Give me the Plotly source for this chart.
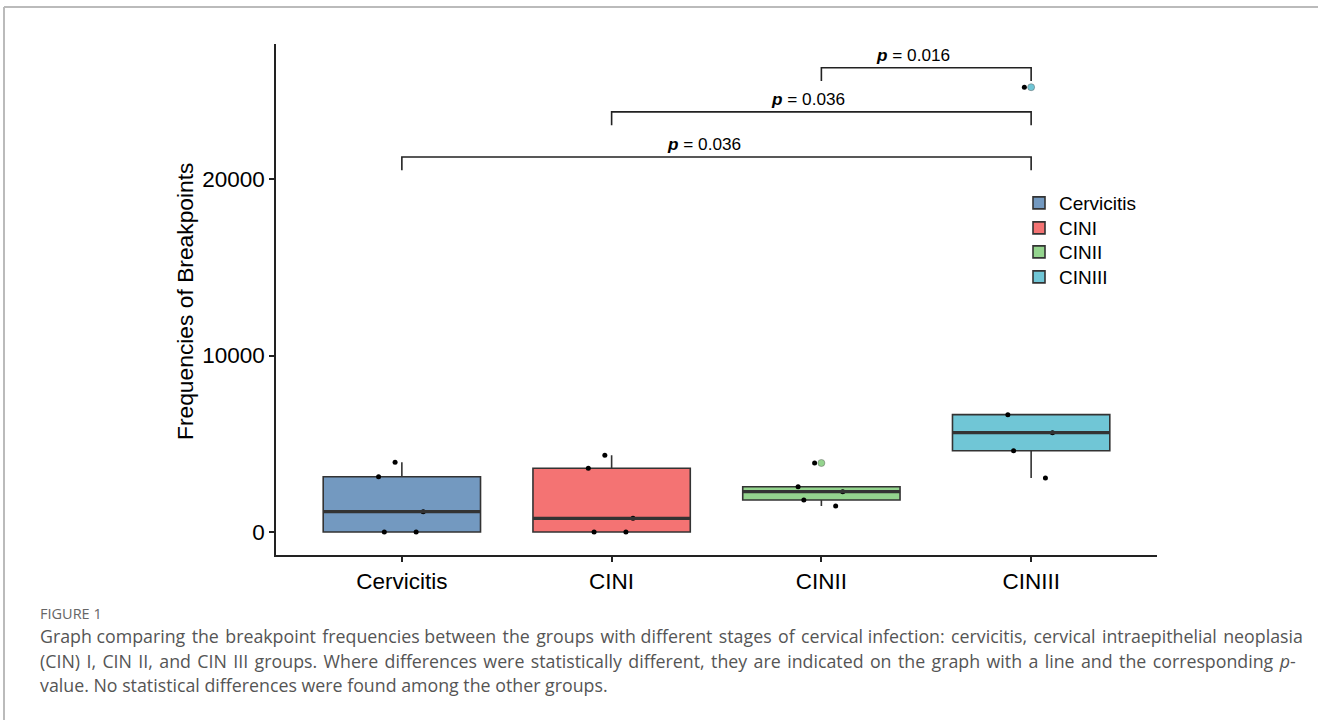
import numpy as np
import plotly.graph_objects as go

# ---- data -------------------------------------------------------------
groups = ["Cervicitis", "CINI", "CINII", "CINIII"]

cervicitis = [0, 0, 1150, 3130, 3950]
cin_1 = [0, 0, 775, 3610, 4345]
cin_2 = [1475, 1815, 2285, 2565, 3910]
cin_3 = [3060, 4605, 5625, 6650, 25200]

y_ticks = [0, 10000, 20000]

# pairwise comparisons (left group, right group, p-value, bracket height)
comp_left = ["Cervicitis", "CINI", "CINII"]
comp_right = ["CINIII", "CINIII", "CINIII"]
p_values = ["0.036", "0.036", "0.016"]
bracket_y = [21250, 23800, 26300]

# ---- styling ----------------------------------------------------------
fills = ["#7399C0", "#F47373", "#94D48E", "#70C6D6"]
edge = "#333333"
axis_font = "Liberation Sans, Arial, sans-serif"
caption_font = "Open Sans, sans-serif"
W, H = 1318, 720
box_w = 0.75
tip = 750

samples = [cervicitis, cin_1, cin_2, cin_3]
pos = {g: i for i, g in enumerate(groups)}
legend_ids = ["legend", "legend2", "legend3", "legend4"]

fig = go.Figure()

for i, (g, vals, col) in enumerate(zip(groups, samples, fills)):
    # box with whiskers and coloured outliers
    fig.add_trace(go.Box(
        x=[i] * len(vals), y=vals, name=g, width=box_w,
        quartilemethod="inclusive", whiskerwidth=0,
        fillcolor=col, line=dict(color=edge, width=1.6),
        boxpoints="outliers", jitter=0, pointpos=0,
        marker=dict(color=col, size=7, line=dict(color="#666666", width=0.5)),
        hoverinfo="skip", legend=legend_ids[i],
    ))

for i, (g, vals) in enumerate(zip(groups, samples)):
    # jittered raw observations
    fig.add_trace(go.Box(
        x=[i] * len(vals), y=vals, width=box_w,
        boxpoints="all", jitter=0.35, pointpos=0,
        fillcolor="rgba(0,0,0,0)", line=dict(color="rgba(0,0,0,0)", width=0),
        marker=dict(color="black", size=5),
        showlegend=False, hoverinfo="skip",
    ))

# thicker median bars
for i, vals in enumerate(samples):
    m = float(np.median(vals))
    fig.add_trace(go.Scatter(
        x=[i - box_w / 2, i + box_w / 2], y=[m, m], mode="lines",
        line=dict(color=edge, width=3.2), showlegend=False, hoverinfo="skip",
    ))

# significance brackets
annotations = []
for a, b, p, h in zip(comp_left, comp_right, p_values, bracket_y):
    x1, x2 = pos[a], pos[b]
    fig.add_trace(go.Scatter(
        x=[x1, x1, x2, x2], y=[h - tip, h, h, h - tip], mode="lines",
        line=dict(color="#222222", width=1.6), showlegend=False, hoverinfo="skip",
    ))
    annotations.append(dict(
        x=(x1 + x2) / 2, y=h, xref="x", yref="y", xshift=-13, yshift=1,
        text=f"<b><i>p</i></b> = {p}", showarrow=False, yanchor="bottom",
        font=dict(family=axis_font, size=17.2, color="black"),
    ))

# y-axis title
annotations.append(dict(
    x=185 / W, y=1 - 301 / H, xref="paper", yref="paper",
    text="Frequencies of Breakpoints", textangle=-90, showarrow=False,
    xanchor="center", yanchor="middle",
    font=dict(family=axis_font, size=22.8, color="black"),
))

# caption
cap_x = 38
annotations.append(dict(
    x=cap_x / W, y=1 - 613 / H, xref="paper", yref="paper", text="FIGURE 1",
    showarrow=False, xanchor="left", yanchor="middle",
    font=dict(family=caption_font, size=14.5, color="#666666"),
))
caption_lines = [
    "Graph comparing the breakpoint frequencies between the groups with different stages of cervical infection: cervicitis, cervical intraepithelial neoplasia",
    "(CIN) I, CIN II, and CIN III groups. Where differences were statistically different, they are indicated on the graph with a line and the corresponding <i>p</i>-",
    "value. No statistical differences were found among the other groups.",
]


def justify(line, extra):
    """Spread `extra` hair spaces evenly over the word gaps of a line."""
    words = line.split(" ")
    gaps = len(words) - 1
    if extra == 0 or gaps == 0:
        return line
    out = words[0]
    for k in range(gaps):
        n = (extra * (k + 1)) // gaps - (extra * k) // gaps
        out += " " + "\u200a" * n + words[k + 1]
    return out


# the first two lines are set justified, the last one is ragged
hair_spaces = [13, 25, 0]
for k, line in enumerate(caption_lines):
    annotations.append(dict(
        x=cap_x / W, y=1 - (636 + 24.5 * k) / H, xref="paper", yref="paper",
        text=justify(line, hair_spaces[k]), showarrow=False,
        xanchor="left", yanchor="middle",
        font=dict(family=caption_font, size=17.8, color="#555555"),
    ))

axis_common = dict(
    showline=True, linecolor="#222222", linewidth=1.5,
    ticks="outside", ticklen=5, tickwidth=1.5, tickcolor="#222222",
    tickfont=dict(family=axis_font, size=22.5, color="black"),
    showgrid=False, zeroline=False,
)

legend_rows = [203, 228, 252, 277]
legend_layout = {}
for lid, row in zip(legend_ids, legend_rows):
    legend_layout[lid] = dict(
        x=1019 / W, y=1 - row / H, xanchor="left", yanchor="middle",
        font=dict(family=axis_font, size=19, color="black"),
        bgcolor="rgba(0,0,0,0)", borderwidth=0,
    )

fig.update_layout(
    width=W, height=H,
    margin=dict(l=0, r=0, t=0, b=0),
    paper_bgcolor="white", plot_bgcolor="white",
    boxmode="overlay",
    xaxis=dict(domain=[276 / W, 1157 / W], range=[-0.6, 3.6],
               tickvals=list(range(len(groups))), ticktext=groups, **axis_common),
    yaxis=dict(domain=[1 - 555 / H, 1 - 44 / H], range=[-1303, 27648],
               tickvals=y_ticks, ticktext=[str(t) for t in y_ticks], **axis_common),
    annotations=annotations,
    shapes=[
        dict(type="line", xref="paper", yref="paper", x0=4 / W, x1=1,
             y0=1 - 7 / H, y1=1 - 7 / H, line=dict(color="#BBBBBB", width=2)),
        dict(type="line", xref="paper", yref="paper", x0=4 / W, x1=4 / W,
             y0=0, y1=1 - 7 / H, line=dict(color="#BBBBBB", width=2)),
    ],
    **legend_layout,
)

fig.write_html("out.html")
